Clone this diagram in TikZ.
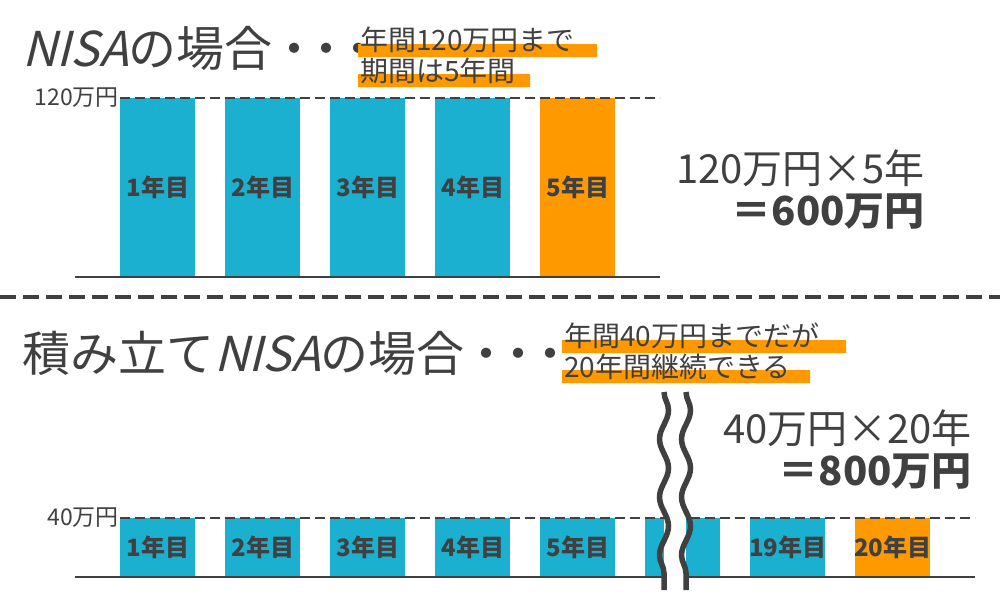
\documentclass[tikz,border=0pt]{standalone}
\usepackage{fontspec}
\setmainfont{Noto Sans CJK JP}
\newfontfamily\slfont[FakeSlant=0.25]{Noto Sans CJK JP}
\usepackage{tikz}
\usetikzlibrary{decorations.pathmorphing}
\definecolor{balken}{HTML}{1BB0D0}
\definecolor{orange}{HTML}{FF9900}
\definecolor{schrift}{HTML}{404040}
\newcommand{\punkte}{\kern-2pt・\kern-16pt・\kern-16pt・}
\tikzset{
  jahr/.style={fill=balken,minimum width=75pt,inner sep=0pt,anchor=north west},
  etikett/.style={font=\fontsize{24}{24}\selectfont\bfseries,text=schrift,inner sep=0pt},
  hinweis/.style={anchor=west,font=\fontsize{28}{28}\selectfont,inner sep=0pt},
  marker/.style={fill=orange}
}
\begin{document}
\begin{tikzpicture}[x=1pt,y=-1pt,text=schrift]
  \useasboundingbox (0,0) rectangle (1000,600);
  % oben: NISA
  \node[anchor=west,font=\fontsize{48}{48}\selectfont,inner sep=0pt] (titel1) at (22,48) {{\slfont NISA}の場合\punkte};
  \fill[marker] (358,44) rectangle (597,57) (358,74) rectangle (530,87);
  \node[hinweis] (hinweis1a) at (360,40) {年間120万円まで};
  \node[hinweis] (hinweis1b) at (360,71) {期間は5年間};
  \foreach \i/\x/\c in {1/120/balken,2/225/balken,3/330/balken,4/435/balken,5/540/orange}
    \node[jahr,fill=\c,minimum height=179pt] (a\i) at (\x,98) {};
  \foreach \i in {1,...,5}
    \node[etikett] at (a\i) {\i 年目};
  \draw[dashed,dash pattern=on 10pt off 5pt,line width=1.3pt,schrift] (120,98) coordinate (g1) -- (660,98);
  \node[anchor=east,font=\fontsize{23}{23}\selectfont,inner sep=1pt] (max1) at (g1) {120万円};
  \draw[line width=1.3pt,schrift] (75,277) -- (660,277);
  \node[anchor=east,align=right,font=\fontsize{40}{42}\selectfont,inner sep=0pt] (summe1) at (925,190) {120万円×5年\\{\bfseries ＝600万円}};
  % trennlinie
  \draw[schrift,line width=3.5pt,dash pattern=on 16pt off 7pt] (0,297) -- (1000,297);
  % unten: tsumitate NISA
  \node[anchor=west,font=\fontsize{48}{48}\selectfont,inner sep=0pt] (titel2) at (22,353) {積み立て{\slfont NISA}の場合\punkte};
  \fill[marker] (562,340) rectangle (846,353) (562,370) rectangle (810,383);
  \node[hinweis] (hinweis2a) at (564,336) {年間40万円までだが};
  \node[hinweis] (hinweis2b) at (564,367) {20年間継続できる};
  \foreach \i/\x/\c in {1/120/balken,2/225/balken,3/330/balken,4/435/balken,5/540/balken,6/645/balken,19/750/balken,20/855/orange}
    \node[jahr,fill=\c,minimum height=59pt] (b\i) at (\x,518) {};
  \foreach \i in {1,2,3,4,5,19,20}
    \node[etikett] at (b\i) {\i 年目};
  \draw[dashed,dash pattern=on 10pt off 5pt,line width=1.3pt,schrift] (120,518) coordinate (g2) -- (975,518);
  \node[anchor=east,font=\fontsize{23}{23}\selectfont,inner sep=1pt] (max2) at (g2) {40万円};
  \draw[line width=1.3pt,schrift] (75,577) -- (975,577);
  \node[anchor=east,align=right,font=\fontsize{40}{42}\selectfont,inner sep=0pt] (summe2) at (972,450) {40万円×20年\\{\bfseries ＝800万円}};
  % wellenlinien
  \fill[white] (664,392) rectangle (686,590);
  \foreach \x in {664,686}
    \draw[schrift,line width=5.5pt,decorate,decoration={snake,segment length=58pt,amplitude=4.5pt}] (\x,392) -- (\x,590);
\end{tikzpicture}
\end{document}
